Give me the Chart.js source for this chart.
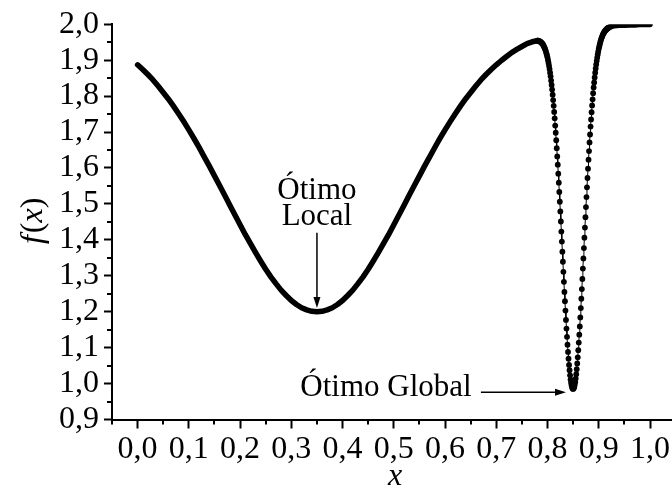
<!DOCTYPE html>
<html>
<head>
<title>f(x)</title>
<script src="https://cdn.jsdelivr.net/npm/chart.js"></script>
<style>
  body { margin: 0; background: #fff; }
</style>
</head>
<body>
<canvas id="chart" width="672" height="488"></canvas>
<script>
    // curve: coarse part, the narrow valley (fine steps), the flat tail
    const xBroad = [0.00, 0.01, 0.02, 0.03, 0.04, 0.05, 0.06, 0.07, 0.08, 0.09,
        0.10, 0.11, 0.12, 0.13, 0.14, 0.15, 0.16, 0.17, 0.18, 0.19,
        0.20, 0.21, 0.22, 0.23, 0.24, 0.25, 0.26, 0.27, 0.28, 0.29,
        0.30, 0.31, 0.32, 0.33, 0.34, 0.35, 0.36, 0.37, 0.38, 0.39,
        0.40, 0.41, 0.42, 0.43, 0.44, 0.45, 0.46, 0.47, 0.48, 0.49,
        0.50, 0.51, 0.52, 0.53, 0.54, 0.55, 0.56, 0.57, 0.58, 0.59,
        0.60, 0.61, 0.62, 0.63, 0.64, 0.65, 0.66, 0.67, 0.68, 0.69,
        0.70, 0.71, 0.72, 0.73, 0.74, 0.75, 0.76, 0.77];
    const fBroad = [1.887, 1.874, 1.860, 1.845, 1.828, 1.810, 1.792, 1.772, 1.751, 1.729,
        1.706, 1.682, 1.657, 1.631, 1.605, 1.578, 1.551, 1.524, 1.496, 1.469,
        1.442, 1.415, 1.390, 1.365, 1.341, 1.318, 1.297, 1.278, 1.260, 1.245,
        1.231, 1.220, 1.211, 1.205, 1.201, 1.200, 1.201, 1.205, 1.211, 1.220,
        1.231, 1.245, 1.260, 1.278, 1.297, 1.318, 1.341, 1.365, 1.390, 1.415,
        1.442, 1.469, 1.496, 1.524, 1.551, 1.578, 1.605, 1.631, 1.657, 1.682,
        1.706, 1.729, 1.751, 1.772, 1.792, 1.810, 1.828, 1.845, 1.860, 1.874,
        1.887, 1.899, 1.910, 1.921, 1.930, 1.938, 1.946, 1.951];

    const xDip = [0.780, 0.781, 0.782, 0.783, 0.784, 0.785, 0.786, 0.787, 0.788, 0.789,
        0.790, 0.791, 0.792, 0.793, 0.794, 0.795, 0.796, 0.797, 0.798, 0.799,
        0.800, 0.801, 0.802, 0.803, 0.804, 0.805, 0.806, 0.807, 0.808, 0.809,
        0.810, 0.811, 0.812, 0.813, 0.814, 0.815, 0.816, 0.817, 0.818, 0.819,
        0.820, 0.821, 0.822, 0.823, 0.824, 0.825, 0.826, 0.827, 0.828, 0.829,
        0.830, 0.831, 0.832, 0.833, 0.834, 0.835, 0.836, 0.837, 0.838, 0.839,
        0.840, 0.841, 0.842, 0.843, 0.844, 0.845, 0.846, 0.847, 0.848, 0.849,
        0.850, 0.851, 0.852, 0.853, 0.854, 0.855, 0.856, 0.857, 0.858, 0.859,
        0.860, 0.861, 0.862, 0.863, 0.864, 0.865, 0.866, 0.867, 0.868, 0.869,
        0.870, 0.871, 0.872, 0.873, 0.874, 0.875, 0.876, 0.877, 0.878, 0.879,
        0.880, 0.881, 0.882, 0.883, 0.884, 0.885, 0.886, 0.887, 0.888, 0.889,
        0.890, 0.891, 0.892, 0.893, 0.894, 0.895, 0.896, 0.897, 0.898, 0.899,
        0.900, 0.901, 0.902, 0.903, 0.904, 0.905, 0.906, 0.907, 0.908, 0.909,
        0.910, 0.911, 0.912, 0.913, 0.914, 0.915, 0.916, 0.917, 0.918, 0.919,
        0.920];
    const fDip = [1.954, 1.954, 1.954, 1.953, 1.953, 1.952, 1.951, 1.950, 1.949, 1.947,
        1.946, 1.944, 1.941, 1.938, 1.935, 1.932, 1.928, 1.923, 1.918, 1.913,
        1.907, 1.900, 1.892, 1.884, 1.875, 1.865, 1.855, 1.843, 1.831, 1.818,
        1.804, 1.789, 1.773, 1.756, 1.738, 1.718, 1.698, 1.677, 1.655, 1.632,
        1.609, 1.584, 1.559, 1.533, 1.506, 1.479, 1.451, 1.423, 1.395, 1.367,
        1.339, 1.311, 1.283, 1.255, 1.229, 1.203, 1.177, 1.153, 1.130, 1.108,
        1.088, 1.069, 1.052, 1.037, 1.023, 1.011, 1.002, 0.995, 0.989, 0.986,
        0.985, 0.987, 0.990, 0.996, 1.004, 1.014, 1.026, 1.040, 1.056, 1.073,
        1.093, 1.114, 1.136, 1.159, 1.184, 1.210, 1.236, 1.263, 1.291, 1.320,
        1.348, 1.377, 1.406, 1.434, 1.463, 1.491, 1.519, 1.546, 1.572, 1.598,
        1.623, 1.647, 1.671, 1.693, 1.715, 1.735, 1.755, 1.774, 1.791, 1.808,
        1.824, 1.838, 1.852, 1.865, 1.877, 1.888, 1.898, 1.907, 1.916, 1.924,
        1.932, 1.938, 1.944, 1.950, 1.955, 1.960, 1.964, 1.967, 1.971, 1.974,
        1.976, 1.979, 1.981, 1.983, 1.984, 1.986, 1.987, 1.988, 1.990, 1.990,
        1.991];

    const xTail = [0.93, 0.94, 0.95, 0.96, 0.97, 0.98, 0.99, 1.00];
    const fTail = [1.996, 1.997, 1.997, 1.998, 1.998, 1.999, 1.999, 1.999];

    const xTicks = [0.0, 0.1, 0.2, 0.3, 0.4, 0.5, 0.6, 0.7, 0.8, 0.9, 1.0];
    const xMinor = [-0.05, 0.05, 0.15, 0.25, 0.35, 0.45, 0.55, 0.65, 0.75, 0.85, 0.95];
    const yTicks = [0.9, 1.0, 1.1, 1.2, 1.3, 1.4, 1.5, 1.6, 1.7, 1.8, 1.9, 2.0];
    const yMinor = [0.95, 1.05, 1.15, 1.25, 1.35, 1.45, 1.55, 1.65, 1.75, 1.85, 1.95];

    const FONT = '"Liberation Serif", "Times New Roman", serif';

    const xs = xBroad.concat(xDip, xTail);
    const fs = fBroad.concat(fDip, fTail);
    const points = xs.map((x, i) => ({x: x, y: fs[i]}));

    // the valley is drawn as separate dots, the rest as one thick stroke
    function inDip(x) {
        return x > 0.7795 && x < 0.9205;
    }

    function comma(v) {
        return v.toFixed(1).replace('.', ',');
    }

    function arrow(ctx, x0, y0, x1, y1) {
        const a = Math.atan2(y1 - y0, x1 - x0);
        const len = 11, half = 3.5;
        ctx.beginPath();
        ctx.moveTo(x0, y0);
        ctx.lineTo(x1 - len * Math.cos(a), y1 - len * Math.sin(a));
        ctx.stroke();
        ctx.beginPath();
        ctx.moveTo(x1, y1);
        ctx.lineTo(x1 - len * Math.cos(a) + half * Math.sin(a), y1 - len * Math.sin(a) - half * Math.cos(a));
        ctx.lineTo(x1 - len * Math.cos(a) - half * Math.sin(a), y1 - len * Math.sin(a) + half * Math.cos(a));
        ctx.closePath();
        ctx.fill();
    }

    const extras = {
        id: 'extras',
        afterDraw(chart) {
            const ctx = chart.ctx;
            const xs_ = chart.scales.x, ys_ = chart.scales.y;
            const area = chart.chartArea;
            ctx.save();
            ctx.strokeStyle = '#000';
            ctx.fillStyle = '#000';

            // minor ticks
            ctx.lineWidth = 2;
            ctx.beginPath();
            xMinor.forEach(v => {
                const px = Math.round(xs_.getPixelForValue(v));
                ctx.moveTo(px, area.bottom);
                ctx.lineTo(px, area.bottom + 5);
            });
            yMinor.forEach(v => {
                const py = Math.round(ys_.getPixelForValue(v));
                ctx.moveTo(area.left, py);
                ctx.lineTo(area.left - 5, py);
            });
            ctx.stroke();

            // axis titles
            ctx.font = 'italic 32px ' + FONT;
            ctx.textAlign = 'center';
            ctx.textBaseline = 'alphabetic';
            ctx.fillText('x', 395, 485);

            ctx.save();
            ctx.translate(42, (area.top + area.bottom) / 2);
            ctx.rotate(-Math.PI / 2);
            const parts = [['f', 'italic'], ['(', 'normal'], ['x', 'italic'], [')', 'normal']];
            let total = 0;
            parts.forEach(p => {
                ctx.font = p[1] + ' 32px ' + FONT;
                total += ctx.measureText(p[0]).width;
            });
            let cx = -total / 2;
            ctx.textAlign = 'left';
            parts.forEach(p => {
                ctx.font = p[1] + ' 32px ' + FONT;
                ctx.fillText(p[0], cx, 0);
                cx += ctx.measureText(p[0]).width + (p[0] === 'f' ? 2 : 0);
            });
            ctx.restore();

            // annotations
            ctx.font = '31px ' + FONT;
            ctx.textAlign = 'center';
            const lx = xs_.getPixelForValue(0.35);
            ctx.fillText('Ótimo', lx, 199);
            ctx.fillText('Local', lx, 225);
            ctx.lineWidth = 1.5;
            arrow(ctx, lx, ys_.getPixelForValue(1.42), lx, ys_.getPixelForValue(1.21));

            ctx.textAlign = 'right';
            ctx.fillText('Ótimo Global', xs_.getPixelForValue(0.652), 396);
            const gy = ys_.getPixelForValue(0.976);
            arrow(ctx, xs_.getPixelForValue(0.670), gy, xs_.getPixelForValue(0.836), gy);
            ctx.restore();
        }
    };

    const chart = new Chart(document.getElementById('chart'), {
        type: 'scatter',
        data: {
            datasets: [{
                label: 'f(x)',
                data: points,
                showLine: true,
                borderColor: '#000',
                backgroundColor: '#000',
                borderWidth: 5.5,
                borderCapStyle: 'round',
                borderJoinStyle: 'round',
                pointRadius: ctx => inDip(xs[ctx.dataIndex]) ? 2.9 : 0,
                pointBorderWidth: 0,
                pointBackgroundColor: '#000',
                segment: {
                    borderWidth: ctx => (inDip(ctx.p0.parsed.x) && inDip(ctx.p1.parsed.x)) ? 1 : 5.5
                }
            }]
        },
        options: {
            responsive: false,
            animation: false,
            devicePixelRatio: 1,
            layout: {padding: {top: 24, right: 0, left: 0, bottom: 0}},
            plugins: {
                legend: {display: false},
                tooltip: {enabled: false}
            },
            scales: {
                x: {
                    type: 'linear',
                    min: -0.05,
                    max: 1.041,
                    afterFit: s => { s.height = 68.5; },
                    afterBuildTicks: s => { s.ticks = xTicks.map(v => ({value: v})); },
                    ticks: {
                        callback: v => comma(v),
                        color: '#000',
                        font: {family: FONT, size: 32},
                        padding: 2,
                        maxRotation: 0,
                        autoSkip: false
                    },
                    grid: {drawOnChartArea: false, tickLength: 9, tickWidth: 2, tickColor: '#000'},
                    border: {color: '#000', width: 2}
                },
                y: {
                    type: 'linear',
                    min: 0.9,
                    max: 2.0,
                    afterFit: s => { s.width = 112; },
                    afterBuildTicks: s => { s.ticks = yTicks.map(v => ({value: v})); },
                    ticks: {
                        callback: v => comma(v),
                        color: '#000',
                        font: {family: FONT, size: 32},
                        padding: 5,
                        autoSkip: false
                    },
                    grid: {drawOnChartArea: false, tickLength: 8, tickWidth: 2, tickColor: '#000'},
                    border: {color: '#000', width: 2}
                }
            }
        },
        plugins: [extras]
    });
</script>
</body>
</html>
